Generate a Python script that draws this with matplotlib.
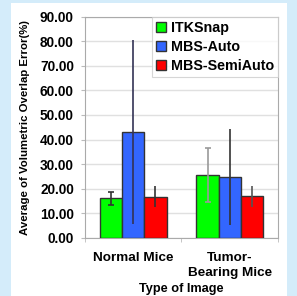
import matplotlib
matplotlib.use('Agg')
import matplotlib.pyplot as plt
import numpy as np

# data
groups = ['Normal Mice', 'Tumor-\nBearing Mice']
methods = ['ITKSnap', 'MBS-Auto', 'MBS-SemiAuto']
means = {
    'ITKSnap': [16.1, 25.6],
    'MBS-Auto': [43.0, 24.7],
    'MBS-SemiAuto': [16.7, 16.9],
}
errors = {
    'ITKSnap': [2.7, 11.0],
    'MBS-Auto': [37.5, 19.6],
    'MBS-SemiAuto': [4.3, 4.2],
}
yticks = np.arange(0, 91, 10)

COLORS = {'ITKSnap': '#00ff00', 'MBS-Auto': '#3366ff', 'MBS-SemiAuto': '#ff0000'}
ERR_COLORS = {'ITKSnap': ['#333333', '#999999'],
              'MBS-Auto': ['#333355', '#333333'],
              'MBS-SemiAuto': ['#333333', '#555555']}
CAPS = {'ITKSnap': 2.5, 'MBS-Auto': 0, 'MBS-SemiAuto': 0}

plt.rcParams['font.family'] = ['Liberation Sans', 'DejaVu Sans']
plt.rcParams['font.weight'] = 'bold'

fig = plt.figure(figsize=(2.97, 2.96), dpi=100)
fig.patch.set_facecolor('#d4ecfa')

# white panel behind the chart
bg = fig.add_axes([11 / 297, 0, (287 - 11) / 297, 1 - 3 / 296], zorder=-1)
bg.set_facecolor('white')
bg.set_xticks([])
bg.set_yticks([])
for s in bg.spines.values():
    s.set_visible(False)

ax = fig.add_axes([0.286, 0.196, 0.65, 0.748])
ax.set_facecolor('white')

x = np.arange(len(groups))
width = 0.23
for i, m in enumerate(methods):
    pos = x + (i - 1) * width
    ax.bar(pos, means[m], width, color=COLORS[m], edgecolor='#333333',
           linewidth=1.0, label=m, zorder=3)
    for j in range(len(groups)):
        ax.errorbar(pos[j], means[m][j], yerr=errors[m][j], fmt='none',
                    ecolor=ERR_COLORS[m][j], elinewidth=1.2,
                    capsize=CAPS[m], capthick=1.2, zorder=4)

ax.set_xlim(-0.5, 1.5)
ax.set_ylim(0, 90)
ax.set_yticks(yticks)
ax.set_yticklabels([f'{v:.2f}' for v in yticks], fontsize=9.8, fontweight='bold')
ax.set_xticks(x)
ax.set_xticklabels(groups, fontsize=9.7, fontweight='bold', linespacing=1.35)
ax.set_xticks([-0.5, 0.5, 1.5], minor=True)
ax.tick_params(axis='x', which='major', length=0, pad=10)
ax.tick_params(axis='x', which='minor', length=3, color='#bbbbbb')
ax.tick_params(axis='y', length=3, color='#bbbbbb', pad=5)

ax.grid(axis='y', color='#e0e0e0', linewidth=1.0, zorder=0)
for s in ax.spines.values():
    s.set_color('#aaaaaa')

ax.set_ylabel('Average of Volumetric Overlap Error(%)', fontsize=8.2,
              fontweight='bold', labelpad=7)
ax.set_xlabel('Type of Image', fontsize=9.2, fontweight='bold', labelpad=3)

leg = ax.legend(loc='upper right', frameon=True, fancybox=False,
                edgecolor='#cccccc', borderaxespad=0, handlelength=0.7,
                handleheight=0.7, handletextpad=0.3, labelspacing=0.35,
                borderpad=0.3, prop={'weight': 'bold', 'size': 10.3})
leg.get_frame().set_linewidth(0.8)

fig.savefig('out.png', dpi=100, facecolor=fig.get_facecolor())
